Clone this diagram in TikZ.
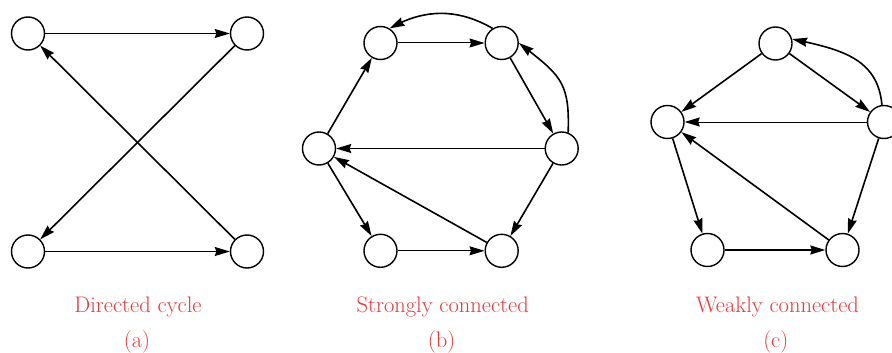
\documentclass[tikz,border=0pt]{standalone}
\usetikzlibrary{arrows.meta,bending}
\definecolor{capred}{RGB}{232,56,56}
\begin{document}
\begin{tikzpicture}[x=1pt,y=-1pt,
  vtx/.style={circle,draw,line width=1.4pt,minimum size=33pt,inner sep=0pt},
  arr/.style={-{Stealth[length=15pt,width=9pt,inset=1.5pt,flex]},line width=1.6pt},
  thinarr/.style={arr,line width=1pt},
  caption/.style={text=capred,font=\fontsize{22.5}{27}\selectfont,anchor=base,inner sep=0pt}]
\useasboundingbox (0,0) rectangle (892,353);
% (a)
\node[vtx] (a1) at (28,33.5) {};
\node[vtx] (a2) at (247,33.5) {};
\node[vtx] (a3) at (28,251.5) {};
\node[vtx] (a4) at (247,251.5) {};
\draw[thinarr] (a1) -- (a2);
\draw[thinarr] (a3) -- (a4);
\draw[arr] (a2) -- (a3);
\draw[arr] (a4) -- (a1);
% (b)
\node[vtx] (b1) at (380.5,43) {};
\node[vtx] (b2) at (501.7,43) {};
\node[vtx] (b3) at (561.7,148.5) {};
\node[vtx] (b4) at (319,148.5) {};
\node[vtx] (b5) at (380.5,250.8) {};
\node[vtx] (b6) at (501.7,250.8) {};
\draw[thinarr] (b1) -- (b2);
\draw[arr] (b2) -- (b3);
\draw[arr] (b3.68) to[out=88,in=-38,looseness=1.3] (b2.0);
\draw[arr] (b2.122) to[out=150,in=30] (b1.58);
\draw[thinarr] (b3) -- (b4);
\draw[arr] (b4) -- (b1);
\draw[arr] (b4) -- (b5);
\draw[thinarr] (b5) -- (b6);
\draw[arr] (b3) -- (b6);
\draw[arr] (b6) -- (b4);
% (c)
\node[vtx] (c1) at (775.5,43.5) {};
\node[vtx] (c2) at (884,122) {};
\node[vtx] (c3) at (667.5,122) {};
\node[vtx] (c4) at (707.5,250) {};
\node[vtx] (c5) at (842.5,250) {};
\draw[arr] (c1) -- (c3);
\draw[arr] (c1) -- (c2);
\draw[arr] (c2.97) to[out=95,in=-12,looseness=1.1] (c1.15);
\draw[thinarr] (c2) -- (c3);
\draw[arr] (c2) -- (c5);
\draw[arr] (c3) -- (c4);
\draw[arr] (c4) -- (c5);
\draw[arr] (c5) -- (c3);
% captions
\node[caption] (ta) at (138,312) {Directed cycle};
\node[caption] (la) at (137,347) {(a)};
\node[caption] (tb) at (442.7,312) {Strongly connected};
\node[caption] (lb) at (441.7,347) {(b)};
\node[caption] (tc) at (777.5,312) {Weakly connected};
\node[caption] (lc) at (775.8,347) {(c)};
\end{tikzpicture}
\end{document}
